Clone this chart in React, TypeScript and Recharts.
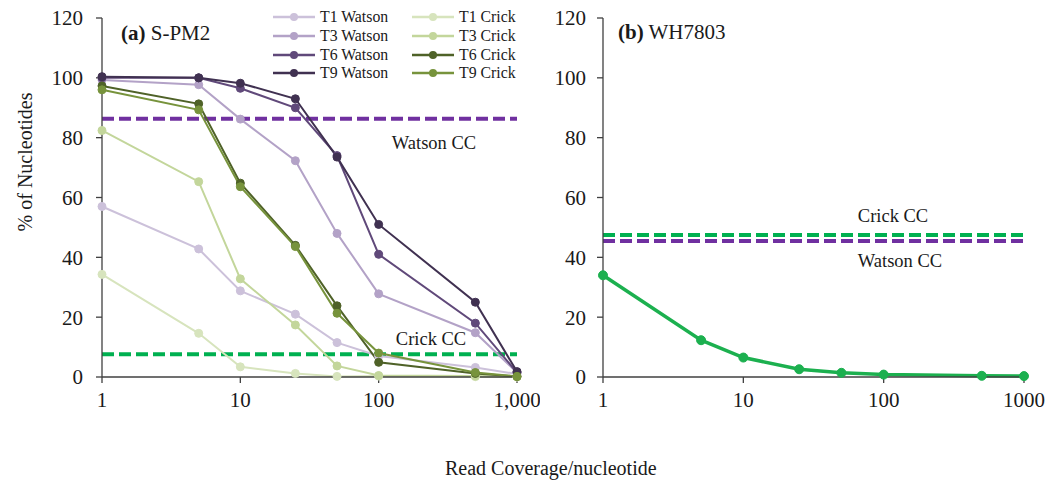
import React from "react";
import { LineChart, Line, XAxis, YAxis, ReferenceLine } from "recharts";

// read coverage per nucleotide (x positions)
const COVERAGE = [1, 5, 10, 25, 50, 100, 500, 1000];

// (a) S-PM2, % of nucleotides
const T1_WATSON = [57, 42.8, 28.8, 21, 11.5, 7, 3.2, 1];
const T3_WATSON = [99.3, 97.7, 86.2, 72.3, 48, 27.8, 14.8, 1.5];
const T6_WATSON = [100, 100, 96.5, 90, 74, 41, 18, 1.5];
const T9_WATSON = [100.4, 100, 98.2, 93, 73.5, 51, 25, 1.8];
const T1_CRICK = [34.3, 14.6, 3.4, 1.2, 0.2, 0.3, 0.1, 0];
const T3_CRICK = [82.4, 65.3, 32.8, 17.4, 3.7, 0.5, 0.3, 0];
const T6_CRICK = [97.3, 91.3, 64.8, 44, 23.8, 4.9, 1.2, 0.2];
const T9_CRICK = [96, 89.3, 63.6, 43.6, 21.3, 8, 1.5, 0.2];

// (b) WH7803
const WH7803 = [34, 12.3, 6.5, 2.6, 1.4, 0.8, 0.4, 0.3];

// consensus coverage reference levels
const SPM2_WATSON_CC = 86.3;
const SPM2_CRICK_CC = 7.6;
const WH_CRICK_CC = 47.5;
const WH_WATSON_CC = 45.5;

const Y_TICKS = [0, 20, 40, 60, 80, 100, 120];
const X_TICKS = [1, 10, 100, 1000];

const SERIES = [
	{ key: "t1w", name: "T1 Watson", values: T1_WATSON, color: "#ccc1da" },
	{ key: "t3w", name: "T3 Watson", values: T3_WATSON, color: "#b3a2c7" },
	{ key: "t6w", name: "T6 Watson", values: T6_WATSON, color: "#60497a" },
	{ key: "t9w", name: "T9 Watson", values: T9_WATSON, color: "#403151" },
	{ key: "t1c", name: "T1 Crick", values: T1_CRICK, color: "#d7e4bd" },
	{ key: "t3c", name: "T3 Crick", values: T3_CRICK, color: "#c3d69b" },
	{ key: "t6c", name: "T6 Crick", values: T6_CRICK, color: "#4f6228" },
	{ key: "t9c", name: "T9 Crick", values: T9_CRICK, color: "#77933c" },
];

const spm2Data = COVERAGE.map((x, i) => {
	const row: Record<string, number> = { x };
	SERIES.forEach((s) => (row[s.key] = s.values[i]));
	return row;
});

const whData = COVERAGE.map((x, i) => ({ x, wh: WH7803[i] }));

const FONT = "Liberation Serif, Times New Roman, serif";
const AXIS_COLOR = "#404040";
const TEXT_COLOR = "#1a1a1a";
const WATSON_CC_COLOR = "#7030a0";
const CRICK_CC_COLOR = "#00b050";

const tickStyle = { fontSize: 21, fill: TEXT_COLOR, fontFamily: FONT };

// note placed relative to the reference line's start
const note = (text: string, dx: number, dy: number) => (props: any) => {
	const vb = props.viewBox || { x: 0, y: 0 };
	return (
		<text
			x={vb.x + dx}
			y={vb.y + dy}
			textAnchor="middle"
			dominantBaseline="central"
			fontSize={18.5}
			fontFamily={FONT}
			style={{ fontFamily: FONT }}
			fill={TEXT_COLOR}
		>
			{text}
		</text>
	);
};

const LegendIcon: React.FC<{ color: string }> = ({ color }) => (
	<svg width={42} height={10} style={{ display: "block" }}>
		<line x1={0} y1={5} x2={42} y2={5} stroke={color} strokeWidth={2.5} />
		<circle cx={21} cy={5} r={4} fill={color} />
	</svg>
);

const legendOrder = [0, 4, 1, 5, 2, 6, 3, 7].map((i) => SERIES[i]);

export default function App() {
	return (
		<div
			style={{
				position: "absolute",
				left: 0,
				top: 0,
				width: 1055,
				height: 481,
				background: "#fff",
				fontFamily: FONT,
				color: TEXT_COLOR,
			}}
		>
			{/* (a) S-PM2 */}
			<div style={{ position: "absolute", left: 0, top: 0 }}>
				<LineChart
					width={540}
					height={481}
					data={spm2Data}
					style={{ fontFamily: FONT }}
					margin={{ top: 18, right: 23, bottom: 74, left: 0 }}
				>
					<XAxis
						dataKey="x"
						type="number"
						scale="log"
						domain={[1, 1000]}
						ticks={X_TICKS}
						tickFormatter={(v: number) => v.toLocaleString("en-US")}
						tick={tickStyle}
						tickSize={6}
						tickMargin={9}
						axisLine={{ stroke: AXIS_COLOR, strokeWidth: 1.3 }}
						tickLine={{ stroke: AXIS_COLOR, strokeWidth: 1.3 }}
						interval={0}
					/>
					<YAxis
						domain={[0, 120]}
						ticks={Y_TICKS}
						width={102}
						tick={tickStyle}
						tickSize={6}
						tickMargin={13}
						axisLine={{ stroke: AXIS_COLOR, strokeWidth: 1.3 }}
						tickLine={{ stroke: AXIS_COLOR, strokeWidth: 1.3 }}
						interval={0}
					/>
					<ReferenceLine
						y={SPM2_WATSON_CC}
						stroke={WATSON_CC_COLOR}
						strokeWidth={4}
						strokeDasharray="12 5"
						label={note("Watson CC", 332, 24)}
					/>
					<ReferenceLine
						y={SPM2_CRICK_CC}
						stroke={CRICK_CC_COLOR}
						strokeWidth={4}
						strokeDasharray="12 5"
						label={note("Crick CC", 329, -15)}
					/>
					{SERIES.map((s) => (
						<Line
							key={s.key}
							dataKey={s.key}
							name={s.name}
							type="linear"
							stroke={s.color}
							strokeWidth={2}
							dot={{ r: 4, fill: s.color, stroke: s.color, strokeWidth: 1 }}
							activeDot={false}
							isAnimationActive={false}
						/>
					))}
				</LineChart>
			</div>

			{/* (b) WH7803 */}
			<div style={{ position: "absolute", left: 540, top: 0 }}>
				<LineChart
					width={515}
					height={481}
					data={whData}
					style={{ fontFamily: FONT }}
					margin={{ top: 18, right: 31, bottom: 74, left: 0 }}
				>
					<XAxis
						dataKey="x"
						type="number"
						scale="log"
						domain={[1, 1000]}
						ticks={X_TICKS}
						tickFormatter={(v: number) => String(v)}
						tick={tickStyle}
						tickSize={6}
						tickMargin={9}
						axisLine={{ stroke: AXIS_COLOR, strokeWidth: 1.3 }}
						tickLine={{ stroke: AXIS_COLOR, strokeWidth: 1.3 }}
						interval={0}
					/>
					<YAxis
						domain={[0, 120]}
						ticks={Y_TICKS}
						width={63}
						tick={tickStyle}
						tickSize={6}
						tickMargin={11}
						axisLine={{ stroke: AXIS_COLOR, strokeWidth: 1.3 }}
						tickLine={{ stroke: AXIS_COLOR, strokeWidth: 1.3 }}
						interval={0}
					/>
					<ReferenceLine
						y={WH_WATSON_CC}
						stroke={WATSON_CC_COLOR}
						strokeWidth={4}
						strokeDasharray="12 5"
						label={note("Watson CC", 297, 20)}
					/>
					<ReferenceLine
						y={WH_CRICK_CC}
						stroke={CRICK_CC_COLOR}
						strokeWidth={4}
						strokeDasharray="12 5"
						label={note("Crick CC", 290, -19)}
					/>
					<Line
						dataKey="wh"
						name="WH7803"
						type="linear"
						stroke="#1cb04f"
						strokeWidth={3.5}
						dot={{ r: 4.5, fill: "#1cb04f", stroke: "#1cb04f", strokeWidth: 1 }}
						activeDot={false}
						isAnimationActive={false}
					/>
				</LineChart>
			</div>

			{/* panel titles */}
			<div style={{ position: "absolute", left: 121, top: 23, fontSize: 21, lineHeight: "20px", whiteSpace: "nowrap" }}>
				<b>(a)</b> S-PM2
			</div>
			<div style={{ position: "absolute", left: 618, top: 22, fontSize: 21, lineHeight: "20px", whiteSpace: "nowrap" }}>
				<b>(b)</b> WH7803
			</div>

			{/* legend */}
			<div
				style={{
					position: "absolute",
					left: 273,
					top: 8,
					display: "grid",
					gridTemplateColumns: "139px 139px",
					gridAutoRows: "18.7px",
					fontSize: 15.8,
				}}
			>
				{legendOrder.map((s) => (
					<div key={s.key} style={{ display: "flex", alignItems: "center", gap: 5, whiteSpace: "nowrap" }}>
						<LegendIcon color={s.color} />
						<span>{s.name}</span>
					</div>
				))}
			</div>

			{/* axis titles */}
			<div
				style={{
					position: "absolute",
					left: -75,
					top: 152,
					width: 200,
					textAlign: "center",
					fontSize: 20,
					lineHeight: "20px",
					transform: "rotate(-90deg)",
					whiteSpace: "nowrap",
				}}
			>
				% of Nucleotides
			</div>
			<div
				style={{
					position: "absolute",
					left: 445,
					top: 458,
					fontSize: 20,
					lineHeight: "20px",
					whiteSpace: "nowrap",
				}}
			>
				Read Coverage/nucleotide
			</div>
		</div>
	);
}
